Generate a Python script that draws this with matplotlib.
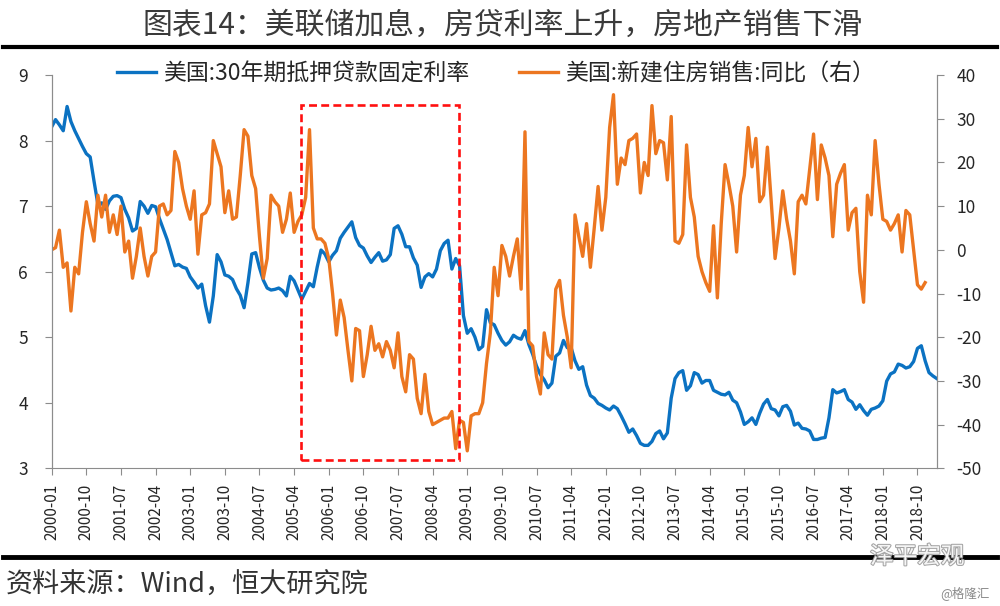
"""
美联储加息，房贷利率上升，房地产销售下滑
"""

import matplotlib
matplotlib.use('Agg')
import matplotlib.pyplot as plt
import matplotlib.patheffects as pe
from matplotlib.lines import Line2D
from matplotlib.patches import Rectangle

plt.rcParams['font.family'] = ['Noto Sans CJK SC', 'DejaVu Sans']
plt.rcParams['axes.unicode_minus'] = False

# 美国:30年期抵押贷款固定利率 (%), 2000-01 ~ 2019-03, 月度
rate_2000_2009 = [
    8.21, 8.32, 8.24, 8.15, 8.52, 8.29, 8.15, 8.03, 7.91, 7.80, 7.75, 7.38,
    7.03, 7.05, 6.95, 7.08, 7.15, 7.16, 7.13, 6.95, 6.82, 6.62, 6.66, 7.07,
    7.00, 6.89, 7.01, 6.99, 6.81, 6.65, 6.49, 6.29, 6.09, 6.11, 6.07, 6.05,
    5.92, 5.84, 5.75, 5.81, 5.48, 5.23, 5.63, 6.26, 6.15, 5.95, 5.93, 5.88,
    5.74, 5.64, 5.45, 5.83, 6.27, 6.29, 6.06, 5.87, 5.75, 5.72, 5.73, 5.75,
    5.71, 5.63, 5.93, 5.86, 5.72, 5.58, 5.70, 5.82, 5.77, 6.07, 6.33, 6.27,
    6.15, 6.25, 6.32, 6.51, 6.60, 6.68, 6.76, 6.52, 6.40, 6.36, 6.24, 6.14,
    6.22, 6.29, 6.16, 6.18, 6.26, 6.66, 6.70, 6.57, 6.38, 6.38, 6.21, 6.10,
    5.76, 5.92, 5.97, 5.92, 6.04, 6.32, 6.43, 6.48, 6.04, 6.20, 6.09, 5.33,
    5.06, 5.13, 5.00, 4.81, 4.86, 5.42, 5.22, 5.19, 5.06, 4.95, 4.88, 4.93,
]
rate_2010_2019 = [
    5.03, 4.99, 4.97, 5.10, 4.89, 4.74, 4.56, 4.43, 4.35, 4.23, 4.30, 4.71,
    4.76, 4.95, 4.84, 4.84, 4.64, 4.51, 4.55, 4.27, 4.11, 4.07, 3.99, 3.96,
    3.92, 3.89, 3.95, 3.91, 3.80, 3.68, 3.55, 3.60, 3.50, 3.38, 3.35, 3.35,
    3.41, 3.53, 3.57, 3.45, 3.54, 4.07, 4.37, 4.46, 4.49, 4.19, 4.26, 4.46,
    4.43, 4.30, 4.34, 4.34, 4.19, 4.16, 4.13, 4.12, 4.16, 4.04, 4.00, 3.86,
    3.67, 3.71, 3.77, 3.67, 3.84, 3.98, 4.05, 3.91, 3.89, 3.80, 3.94, 3.96,
    3.87, 3.66, 3.69, 3.61, 3.60, 3.57, 3.44, 3.44, 3.46, 3.47, 3.77, 4.20,
    4.15, 4.17, 4.20, 4.05, 4.01, 3.90, 3.97, 3.88, 3.81, 3.90, 3.92, 3.95,
    4.03, 4.33, 4.44, 4.47, 4.59, 4.57, 4.53, 4.55, 4.63, 4.83, 4.87, 4.64,
    4.46, 4.41, 4.37,
]
mortgage_rate = rate_2000_2009 + rate_2010_2019

# 美国:新建住房销售:同比 (%), 2000-01 ~ 2018-12, 月度
sales_2000_2009 = [
    0, 0.5, 4.5, -4, -3, -14, -4, -5.5, 4, 11, 6, 2,
    12.5, 7.5, 12.5, 4, 8, 3.5, 10, -0.5, 2, -6.5, -1.5, 5,
    -1.5, -6, -1.5, -0.5, 10, 10.5, 8, 9, 22.5, 20, 14, 10,
    7, 13.5, -1, 8, 8.5, 10.5, 25, 22, 19, 8.5, 13.5, 7,
    7.5, 17, 27.5, 26, 17, 14, 3, -6.5, -2, 12.5, 11, 10,
    4, 7, 13, 4, 6.5, 8, 12, 27.5, 5, 2.5, 2.5, 1.5,
    -2, -10, -19.5, -11.5, -15.5, -23, -30, -18, -18.5, -29, -24, -17.5,
    -23, -21.5, -24.5, -21, -23, -27, -19, -29, -32.5, -24, -25, -34,
    -37.5, -28.5, -37, -40, -39.5, -39, -38.5, -38.5, -37, -45.5, -39, -39.5,
    -46, -38, -37.5, -37.5, -35, -26, -19, -4, -10.5, 1, -1.5, -6,
]
sales_2010_2018 = [
    -1.5, 2.5, -9, 27, -21, -22, -29, -33, -19, -24, -25, -9,
    -7, -15, -20, -27, 8, 3, -1.5, 6, -4, 5, 14.5, 4.5,
    12, 28, 35.5, 15, 21, 19.5, 25, 25.5, 26.5, 13, 20, 17,
    33, 22, 25, 24.5, 16, 30.5, 2, 1.5, 3.5, 24, 12, 7.5,
    -1.5, -5, -7.5, -9.5, 5.5, -11, 6, 19.5, 15, 10, -0.5, 12.5,
    17, 28, 19, 25.5, 11, 12.5, 23.5, 11, -2, 5, 13.5, 7,
    2, -5.5, 11, 12.5, 10.5, 18.5, 26.5, 11.5, 24, 21, 17, 3,
    15, 17.5, 19.5, 4.5, 8.5, 9.5, -5, -12, 12.5, 8, 25, 15,
    7, 6.5, 4.5, 6, 8, -0.5, 9, 8, 0, -8, -9, -7.5,
]
home_sales_yoy = sales_2000_2009 + sales_2010_2018

tick_labels = [
    '2000-01', '2000-10', '2001-07', '2002-04', '2003-01', '2003-10',
    '2004-07', '2005-04', '2006-01', '2006-10', '2007-07', '2008-04',
    '2009-01', '2009-10', '2010-07', '2011-04', '2012-01', '2012-10',
    '2013-07', '2014-04', '2015-01', '2015-10', '2016-07', '2017-04',
    '2018-01', '2018-10',
]
tick_step = 9  # 月

# 红框标注区间 (2005年中 ~ 2008年底)
box_start, box_end = 64.8, 105.9
box_low, box_high = 3.13, 8.54

blue = '#0B72C2'
orange = '#EC7620'
spine_c = '#8C8C8C'
text_c = '#262626'

fig = plt.figure(figsize=(10, 6.06), dpi=100)
ax1 = fig.add_axes([0.0517, 0.2272, 0.885, 0.6490])
ax2 = ax1.twinx()

x_rate = list(range(len(mortgage_rate)))
x_sales = list(range(len(home_sales_yoy)))
l1, = ax1.plot(x_rate, mortgage_rate, color=blue, lw=2.4,
               label='美国:30年期抵押贷款固定利率')
l2, = ax2.plot(x_sales, home_sales_yoy, color=orange, lw=2.4,
               label='美国:新建住房销售:同比（右）')

ax1.set_xlim(0, len(mortgage_rate) - 1)
ax1.set_ylim(3, 9)
ax2.set_ylim(-50, 40)
ax1.set_yticks(range(3, 10))
ax2.set_yticks(range(-50, 41, 10))
ax1.set_xticks([i * tick_step for i in range(len(tick_labels))])
ax1.set_xticklabels(tick_labels, rotation=90, fontsize=11, color=text_c)
ax1.tick_params(axis='y', labelsize=12.5, labelcolor=text_c, direction='out',
                length=5, color=spine_c, pad=12)
ax1.tick_params(axis='x', direction='out', length=5, color=spine_c, pad=6)
ax2.tick_params(axis='y', labelsize=12.5, labelcolor=text_c, direction='out',
                length=5, color=spine_c, pad=9)

for a in (ax1, ax2):
    a.spines['top'].set_visible(False)
    for s in ('left', 'right', 'bottom'):
        a.spines[s].set_color(spine_c)
ax2.spines['bottom'].set_visible(False)

# 红色虚线框
ax2.add_patch(Rectangle((box_start, box_low), box_end - box_start,
                        box_high - box_low, transform=ax1.transData,
                        fill=False, ec='#FF1010', lw=1.9,
                        ls=(0, (3, 1.6)), zorder=5))

fig.legend(handles=[l1, l2], loc='center', ncol=2, frameon=False,
           bbox_to_anchor=(0.496, 1 - 74 / 606), fontsize=16.5,
           handlelength=1.7, handletextpad=0.3, columnspacing=2.2,
           labelcolor=text_c)

# 标题与横线
fig.text(0.503, 1 - 25 / 606, '图表14：美联储加息，房贷利率上升，房地产销售下滑',
         ha='center', va='center', fontsize=21.5, color='#3A3A3A',
         fontweight='light')
fig.add_artist(Line2D([0.003, 0.997], [1 - 47 / 606] * 2,
                      transform=fig.transFigure, color='black', lw=3))
fig.add_artist(Line2D([0.003, 0.997], [1 - 557 / 606] * 2,
                      transform=fig.transFigure, color='black', lw=3.5))

fig.text(0.006, 1 - 585 / 606, '资料来源：Wind，恒大研究院', ha='left',
         va='center', fontsize=19.5, color='#333333', fontweight='light')
fig.text(0.87, 1 - 557 / 606, '泽平宏观', ha='left', va='center',
         fontsize=17, color='white', alpha=0.9,
         path_effects=[pe.withStroke(linewidth=1.5, foreground='#9A9A9A')])
fig.text(0.99, 1 - 593 / 606, '@格隆汇', ha='right', va='center',
         fontsize=9, color='#8A8A8A')

plt.savefig('out.png', dpi=100)
